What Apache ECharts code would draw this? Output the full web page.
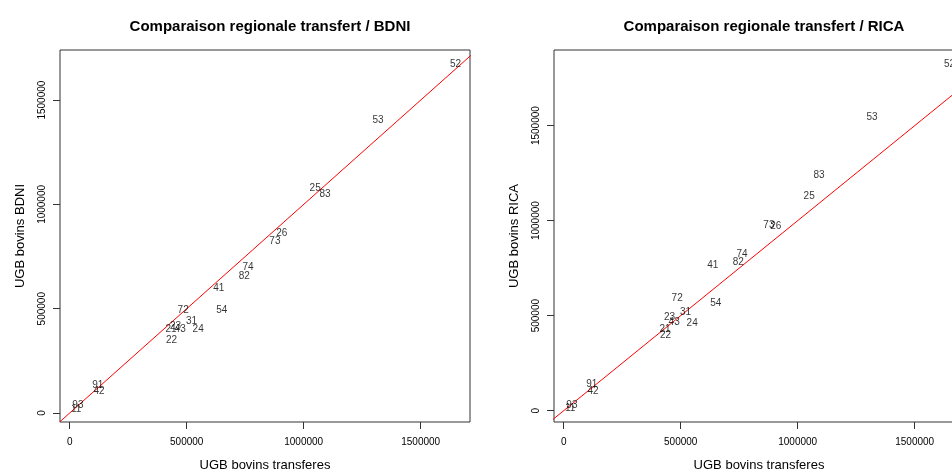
<!DOCTYPE html>
<html>
<head>
<meta charset="utf-8">
<script src="https://cdn.jsdelivr.net/npm/echarts@6/dist/echarts.min.js"></script>
<style>
html,body{margin:0;padding:0;background:#fff;}
#chart{width:952px;height:471px;}
</style>
</head>
<body>
<div id="chart"></div>
<script>
// Region codes (labels of the points)
const regions = ['11','21','22','23','24','25','26','31','41','42','43','52','53','54','72','73','74','82','83','91','93'];
// UGB bovins transferes (x)
const transferes = [28000,433000,435000,452000,549000,1049000,906000,521000,637000,125000,472000,1649000,1318000,650000,485000,877000,762000,746000,1091000,120000,35000];
// UGB bovins BDNI (y, left panel)
const bdni = [19000,400000,347000,417000,401000,1077000,861000,442000,598000,102000,401000,1673000,1405000,494000,494000,825000,701000,655000,1048000,134000,38000];
// UGB bovins RICA (y, right panel)
const rica = [12600,428000,395000,492000,460000,1126000,972000,516000,767000,100000,465000,1825000,1542000,565000,592000,977000,823000,779000,1240000,139000,30000];
// Tick labels
const tickValues = [0, 500000, 1000000, 1500000];

const titles = ['Comparaison regionale transfert / BDNI', 'Comparaison regionale transfert / RICA'];
const yNames = ['UGB bovins BDNI', 'UGB bovins RICA'];
const xName = 'UGB bovins transferes';

const xRange = [-41400, 1710700];
const yRanges = [[-43100, 1740200], [-59500, 1898000]];

const FONT = '"Liberation Sans", Arial, Helvetica, sans-serif';
const gridLefts = [60, 554];
const plotW = 410;

function pts(ys){ return regions.map((r,i)=>[transferes[i], ys[i], r]); }

const chart = echarts.init(document.getElementById('chart'), null, {renderer:'canvas'});

const grids = [], xAxes = [], yAxes = [], series = [], title = [];
[0,1].forEach(k=>{
  grids.push({left: gridLefts[k], top: 50, width: plotW, height: 372, containLabel: false, outerBoundsMode: 'none',
    show: true, borderColor: '#333', borderWidth: 1, backgroundColor: 'transparent'});
  title.push({text: titles[k], left: gridLefts[k] + plotW/2, top: 14, textAlign: 'center',
    textStyle: {fontFamily: FONT, fontSize: 15, fontWeight: 'bold', color: '#000'}});
  xAxes.push({type:'value', gridIndex:k, min: xRange[0], max: xRange[1], position:'bottom',
    name: xName, nameLocation:'middle', nameGap: 37,
    nameTextStyle:{fontFamily: FONT, fontSize: 13, color:'#000'},
    axisLine:{show:false, onZero:false},
    axisTick:{show:true, inside:false, customValues: tickValues, length:7, lineStyle:{color:'#333'}},
    axisLabel:{customValues: tickValues, formatter: v=>String(v), fontFamily: FONT, fontSize: 10, color:'#000', margin: 15},
    splitLine:{show:false}});
  yAxes.push({type:'value', gridIndex:k, min: yRanges[k][0], max: yRanges[k][1], position:'left',
    name: yNames[k], nameLocation:'middle', nameGap: 33, nameRotate: 90,
    nameTextStyle:{fontFamily: FONT, fontSize: 13, color:'#000'},
    axisLine:{show:false, onZero:false},
    axisTick:{show:true, inside:false, customValues: tickValues, length:7, lineStyle:{color:'#333'}},
    axisLabel:{customValues: tickValues, formatter: v=>String(v), rotate: 90, fontFamily: FONT, fontSize: 10, color:'#000', margin: 13},
    splitLine:{show:false}});
  const lo = Math.min(xRange[0], yRanges[k][0]), hi = Math.max(xRange[1], yRanges[k][1]);
  series.push({type:'line', xAxisIndex:k, yAxisIndex:k, data:[[lo,lo],[hi,hi]], symbol:'none', clip:true,
    lineStyle:{color:'#ff0000', width:1}, silent:true, animation:false, z:1});
  series.push({type:'scatter', xAxisIndex:k, yAxisIndex:k, data: pts(k===0?bdni:rica), symbolSize:0,
    encode:{x:0, y:1},
    label:{show:true, position:'inside', formatter: p=>p.data[2], fontFamily: FONT, fontSize: 10, color:'#000'},
    animation:false, z:2});
});

chart.setOption({animation:false, backgroundColor:'#fff', title, grid: grids, xAxis: xAxes, yAxis: yAxes, series});
</script>
</body>
</html>
